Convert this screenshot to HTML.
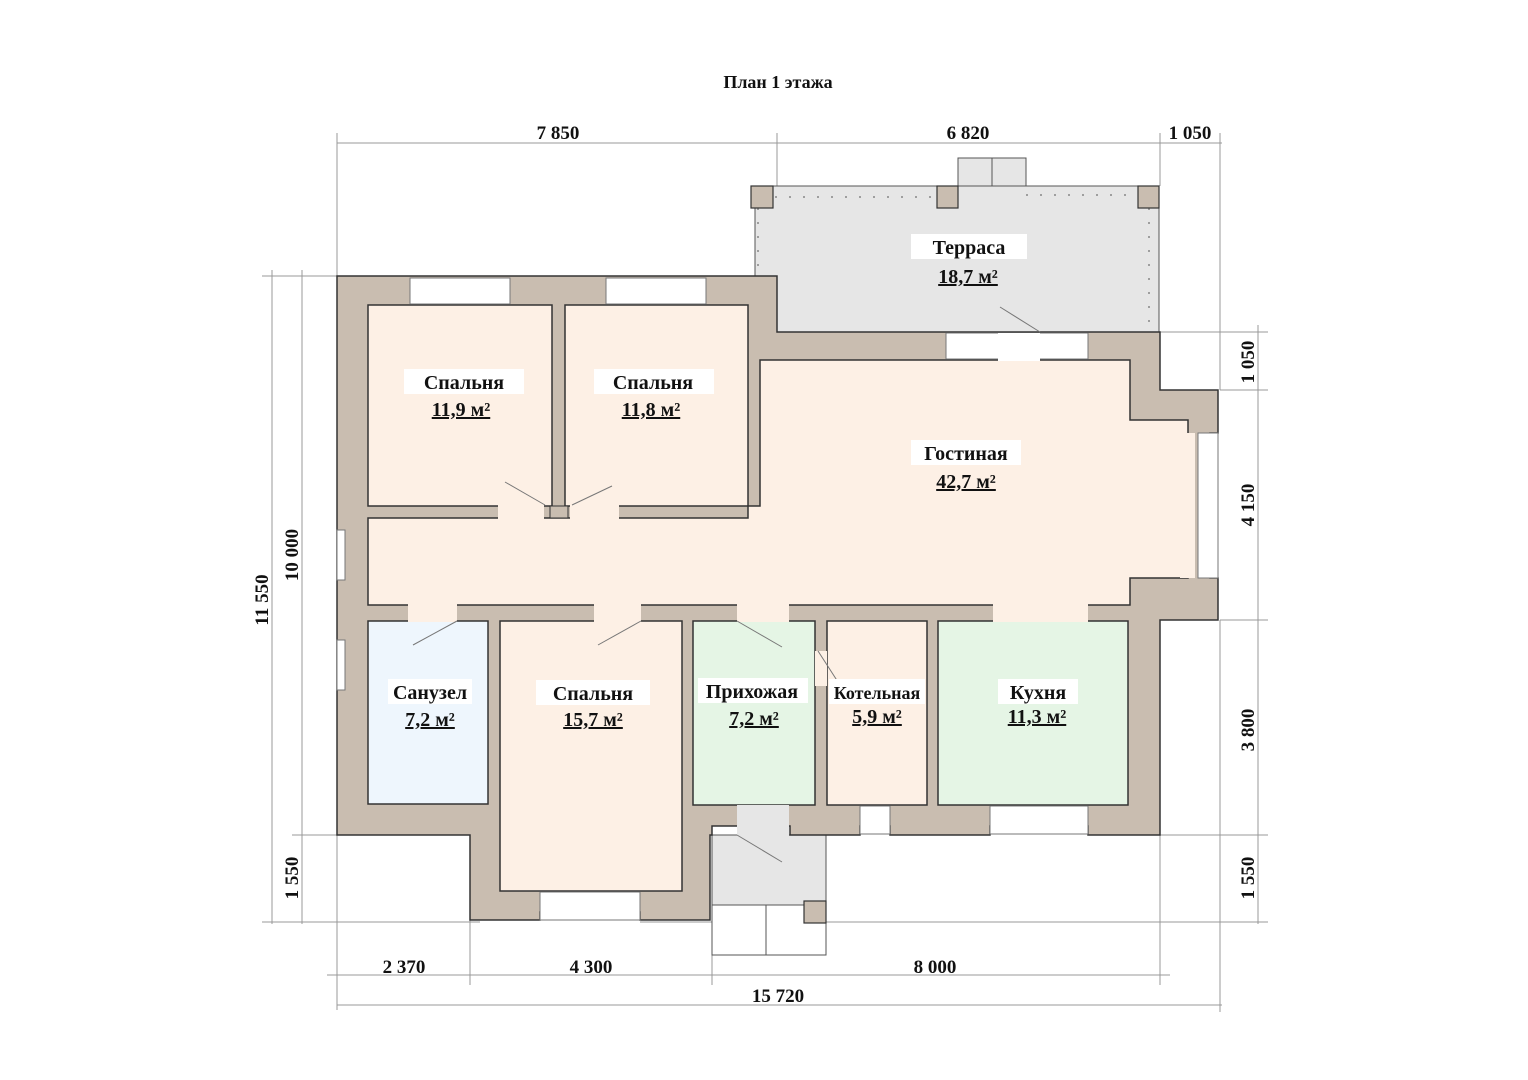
<!DOCTYPE html>
<html><head><meta charset="utf-8"><style>
html,body{margin:0;padding:0;background:#fff;}
svg{display:block;}
text{font-family:"Liberation Serif","Noto Serif CJK SC",serif;font-weight:bold;fill:#111;}
</style></head><body>
<svg width="1528" height="1080" viewBox="0 0 1528 1080" xmlns="http://www.w3.org/2000/svg">
<text x="778" y="88" font-size="18" text-anchor="middle">План 1 этажа</text>

<g stroke="#999" stroke-width="1" fill="none">
<line x1="337" y1="143" x2="1222" y2="143"/>
<line x1="337" y1="133" x2="337" y2="276"/>
<line x1="777" y1="133" x2="777" y2="186"/>
<line x1="1160" y1="133" x2="1160" y2="186"/>
<line x1="1220" y1="133" x2="1220" y2="390"/>
<line x1="327" y1="975" x2="1170" y2="975"/>
<line x1="337" y1="835" x2="337" y2="1010"/>
<line x1="470" y1="920" x2="470" y2="985"/>
<line x1="712" y1="955" x2="712" y2="985"/>
<line x1="1160" y1="835" x2="1160" y2="985"/>
<line x1="337" y1="1005" x2="1222" y2="1005"/>
<line x1="1220" y1="620" x2="1220" y2="1012"/>
<line x1="272" y1="270" x2="272" y2="924"/>
<line x1="302" y1="270" x2="302" y2="924"/>
<line x1="262" y1="276" x2="345" y2="276"/>
<line x1="262" y1="922" x2="480" y2="922"/>
<line x1="292" y1="835" x2="345" y2="835"/>
<line x1="1258" y1="325" x2="1258" y2="924"/>
<line x1="1160" y1="332" x2="1268" y2="332"/>
<line x1="1220" y1="390" x2="1268" y2="390"/>
<line x1="1220" y1="620" x2="1268" y2="620"/>
<line x1="1160" y1="835" x2="1268" y2="835"/>
<line x1="640" y1="922" x2="1268" y2="922"/>
</g>
<g font-size="19">
<text x="558" y="139" text-anchor="middle">7 850</text>
<text x="968" y="139" text-anchor="middle">6 820</text>
<text x="1190" y="139" text-anchor="middle">1 050</text>
<text x="404" y="973" text-anchor="middle">2 370</text>
<text x="591" y="973" text-anchor="middle">4 300</text>
<text x="935" y="973" text-anchor="middle">8 000</text>
<text x="778" y="1002" text-anchor="middle">15 720</text>
<text transform="translate(268,600) rotate(-90)" text-anchor="middle">11 550</text>
<text transform="translate(298,555) rotate(-90)" text-anchor="middle">10 000</text>
<text transform="translate(298,878) rotate(-90)" text-anchor="middle">1 550</text>
<text transform="translate(1254,362) rotate(-90)" text-anchor="middle">1 050</text>
<text transform="translate(1254,505) rotate(-90)" text-anchor="middle">4 150</text>
<text transform="translate(1254,730) rotate(-90)" text-anchor="middle">3 800</text>
<text transform="translate(1254,878) rotate(-90)" text-anchor="middle">1 550</text>
</g>

<rect x="755" y="186" width="404" height="148" fill="#e6e6e6" stroke="#555" stroke-width="1"/>
<rect x="958" y="158" width="68" height="28" fill="#e6e6e6" stroke="#555"/>
<line x1="992" y1="158" x2="992" y2="186" stroke="#555"/>
<g stroke="#555" stroke-width="1" stroke-dasharray="2 12">
<line x1="775" y1="197" x2="937" y2="197"/>
<line x1="1026" y1="195" x2="1138" y2="195"/>
<line x1="758" y1="208" x2="758" y2="270"/>
<line x1="1149" y1="208" x2="1149" y2="330"/>
</g>
<g fill="#c9bdb0" stroke="#333" stroke-width="1.2">
<rect x="751" y="186" width="22" height="22"/>
<rect x="937" y="186" width="21" height="22"/>
<rect x="1138" y="186" width="21" height="22"/>
</g>

<rect x="712" y="835" width="114" height="70" fill="#e6e6e6" stroke="#555"/>
<rect x="712" y="905" width="114" height="50" fill="#fff" stroke="#555"/>
<line x1="766" y1="905" x2="766" y2="955" stroke="#555"/>
<rect x="804" y="901" width="22" height="22" fill="#c9bdb0" stroke="#333" stroke-width="1.2"/>

<path d="M337,276 H777 V332 H1160 V390 H1218 V433 H1210 V578 H1218 V620 H1160 V835 H1088 V826 H990 V835 H890 V826 H860 V835 H790 V826 H712 V835 H710 V920 H640 V912 H540 V920 H470 V835 H337 Z" fill="#c9bdb0" stroke="#333" stroke-width="1.5"/>

<g stroke="#333" stroke-width="1.5">
<rect x="368" y="305" width="184" height="201" fill="#fdf0e5"/>
<rect x="565" y="305" width="183" height="201" fill="#fdf0e5"/>
<path d="M760,360 H1130 V420 H1188 V578 H1130 V605 H368 V518 H748 V506 H760 Z" fill="#fdf0e5"/>
<rect x="368" y="621" width="120" height="183" fill="#eef6fd"/>
<rect x="500" y="621" width="182" height="270" fill="#fdf0e5"/>
<rect x="693" y="621" width="122" height="184" fill="#e5f5e5"/>
<rect x="827" y="621" width="100" height="184" fill="#fdf0e5"/>
<rect x="938" y="621" width="190" height="184" fill="#e5f5e5"/>
</g>
<g fill="#fdf0e5">
<rect x="498" y="505" width="46" height="14"/>
<rect x="570" y="505" width="49" height="14"/>
<rect x="408" y="604" width="49" height="18"/>
<rect x="594" y="604" width="47" height="18"/>
<rect x="737" y="604" width="52" height="18"/>
<rect x="993" y="604" width="95" height="18"/>
<rect x="1180" y="433" width="15" height="145"/>
</g>
<rect x="550" y="506" width="18" height="12" fill="#c9bdb0" stroke="#333"/>
<rect x="815" y="651" width="12" height="35" fill="#fdf0e5"/>
<rect x="737" y="805" width="52" height="31" fill="#e6e6e6"/>
<g fill="#fff" stroke="#777" stroke-width="1">
<rect x="410" y="278" width="100" height="26"/>
<rect x="606" y="278" width="100" height="26"/>
<rect x="946" y="333" width="142" height="26"/>
<rect x="1198" y="433" width="20" height="145"/>
<rect x="337" y="530" width="8" height="50"/>
<rect x="337" y="640" width="8" height="50"/>
<rect x="540" y="892" width="100" height="28"/>
<rect x="860" y="806" width="30" height="28"/>
<rect x="990" y="806" width="98" height="28"/>
</g>
<rect x="998" y="333" width="42" height="28" fill="#fff"/>
<g stroke="#777" stroke-width="1">
<line x1="505" y1="482" x2="545" y2="505"/>
<line x1="572" y1="505" x2="612" y2="486"/>
<line x1="413" y1="645" x2="457" y2="621"/>
<line x1="598" y1="645" x2="641" y2="621"/>
<line x1="737" y1="621" x2="782" y2="647"/>
<line x1="818" y1="651" x2="838" y2="682"/>
<line x1="737" y1="835" x2="782" y2="862"/>
<line x1="1000" y1="307" x2="1040" y2="332"/>
</g>

<g font-size="20" text-anchor="middle">
<rect x="404" y="369" width="120" height="25" fill="#fff"/>
<text x="464" y="389">Спальня</text>
<text x="461" y="416" text-decoration="underline">11,9 м²</text>
<rect x="594" y="369" width="120" height="25" fill="#fff"/>
<text x="653" y="389">Спальня</text>
<text x="651" y="416" text-decoration="underline">11,8 м²</text>
<rect x="911" y="440" width="110" height="25" fill="#fff"/>
<text x="966" y="460">Гостиная</text>
<text x="966" y="488" text-decoration="underline">42,7 м²</text>
<rect x="911" y="234" width="116" height="25" fill="#fff"/>
<text x="969" y="254">Терраса</text>
<text x="968" y="283" text-decoration="underline">18,7 м²</text>
<rect x="388" y="679" width="84" height="25" fill="#fff"/>
<text x="430" y="699">Санузел</text>
<text x="430" y="726" text-decoration="underline">7,2 м²</text>
<rect x="536" y="680" width="114" height="25" fill="#fff"/>
<text x="593" y="700">Спальня</text>
<text x="593" y="726" text-decoration="underline">15,7 м²</text>
<rect x="698" y="678" width="110" height="25" fill="#fff"/>
<text x="752" y="698">Прихожая</text>
<text x="754" y="725" text-decoration="underline">7,2 м²</text>
<rect x="829" y="679" width="96" height="25" fill="#fff"/>
<text x="877" y="699" font-size="18">Котельная</text>
<text x="877" y="723" text-decoration="underline">5,9 м²</text>
<rect x="998" y="679" width="80" height="25" fill="#fff"/>
<text x="1038" y="699">Кухня</text>
<text x="1037" y="723" text-decoration="underline">11,3 м²</text>
</g>
</svg>
</body></html>
